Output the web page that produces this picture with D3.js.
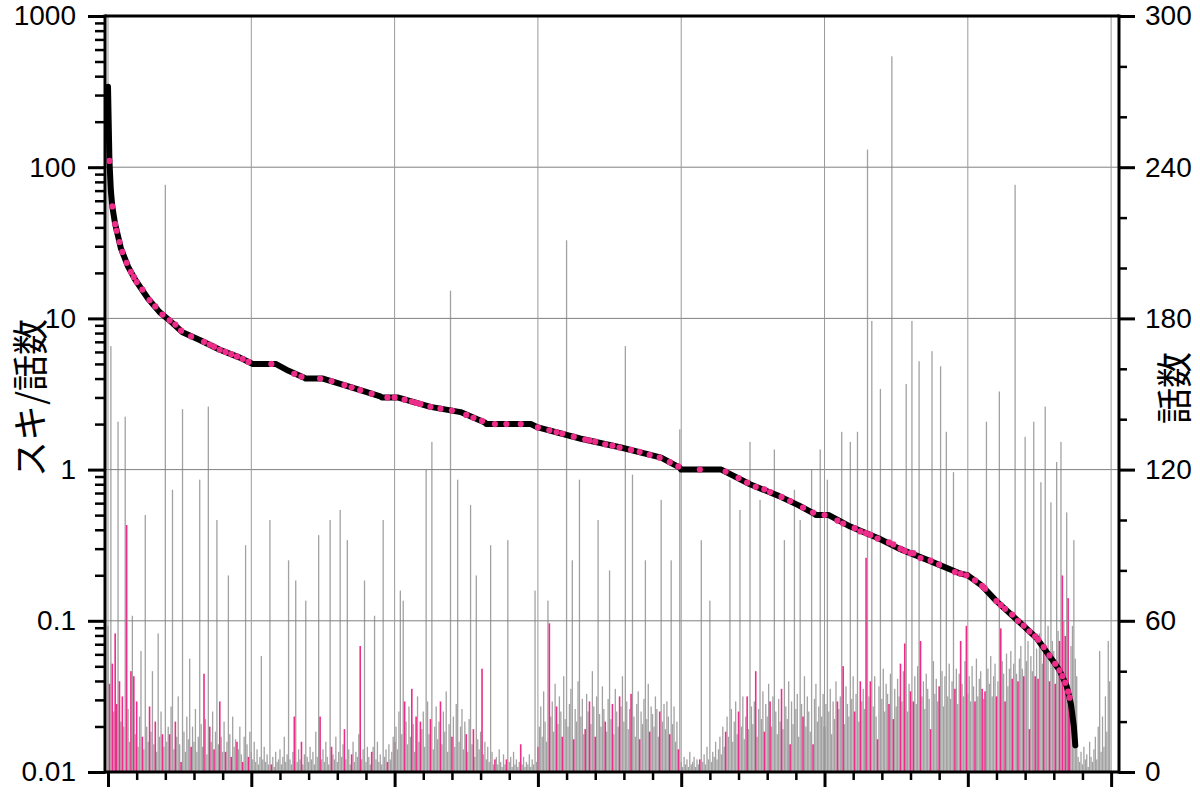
<!DOCTYPE html>
<html><head><meta charset="utf-8">
<script src="https://cdn.jsdelivr.net/npm/d3@7/dist/d3.min.js"></script>
<style>html,body{margin:0;padding:0;background:#fff;}svg{display:block;}</style>
</head><body>
<svg id="c" width="1200" height="796"></svg>
<script>
// ---- data ----
// episodes (話数) per work, in order of descending スキ/話数
const episodes = [
58,35,169,43,24,55,27,139,36,20,
30,18,141,98,25,12,40,62,38,15,
28,10,22,48,14,9,102,18,12,26,
16,40,11,20,8,55,14,24,15,10,
233,12,18,15,26,112,9,20,14,30,
11,4,144,16,8,22,13,45,10,18,
12,25,8,14,116,19,10,39,21,7,
145,18,12,24,9,16,100,11,28,14,
8,20,8,12,78,15,6,22,10,13,
12,9,18,7,4,14,90,11,6,16,
8,5,12,4,9,3,6,46,5,10,
4,7,3,100,3,6,2,8,4,5,
9,3,6,14,4,7,84,5,3,8,
22,76,4,9,5,12,3,7,68,6,
4,10,5,8,3,16,6,94,22,5,
9,4,12,6,3,100,10,7,5,14,
4,8,104,6,11,17,5,92,9,3,
7,12,4,8,6,15,50,5,9,76,
4,10,6,3,8,10,62,5,12,4,
7,3,100,6,9,4,11,5,8,14,
12,18,9,24,72,15,68,28,20,11,
26,14,33,19,8,22,30,12,20,17,
24,10,120,28,15,21,131,9,18,26,
13,20,28,11,24,16,32,8,19,191,
14,22,10,27,116,12,18,25,9,20,
15,8,21,106,11,17,6,78,13,9,
16,41,7,12,5,10,4,90,8,3,
5,6,3,9,4,2,7,3,5,92,
4,6,2,8,3,5,2,4,11,3,
6,2,4,3,7,2,5,3,72,4,
10,18,26,14,32,20,12,68,59,22,
28,16,35,26,19,30,24,14,38,21,
211,18,27,33,84,13,25,20,36,116,
22,29,15,17,31,24,28,19,40,26,
14,30,100,23,18,34,25,20,16,29,
80,21,27,15,33,24,18,30,26,38,
20,169,28,17,25,31,118,22,14,27,
32,13,24,19,29,84,21,35,16,26,
23,18,30,25,14,24,108,20,27,17,
28,22,15,84,19,26,12,20,9,136,
4,2,6,3,5,2,8,3,4,6,
2,5,3,5,92,4,7,3,10,5,
68,4,8,6,12,5,9,14,7,18,
10,16,22,14,116,25,12,20,28,15,
24,104,18,30,13,22,30,17,131,26,
19,28,40,14,25,108,21,32,16,27,
22,35,28,18,30,128,24,15,29,20,
33,17,92,26,21,36,11,28,19,112,
25,31,14,100,27,22,38,18,30,24,
16,120,11,29,35,20,26,128,22,31,
18,27,116,24,33,15,28,21,36,28,
25,30,135,42,19,34,27,22,131,29,
38,24,31,135,20,36,28,33,25,85,
247,30,36,179,26,38,22,13,34,152,
29,41,24,35,31,27,39,284,21,33,
26,37,30,43,28,40,51,154,24,35,
32,179,28,38,27,42,163,52,30,36,
25,39,33,29,17,167,44,31,37,28,
34,161,40,26,38,135,30,43,29,36,
119,33,41,27,39,52,35,30,44,58,
31,38,28,42,34,28,45,30,37,40,
33,29,32,139,41,35,46,30,38,43,
30,36,151,57,44,39,28,47,34,41,
48,37,43,233,39,36,45,50,41,38,
133,44,52,17,46,40,139,38,49,37,
55,115,43,50,145,47,58,36,107,52,
48,35,123,56,52,131,78,60,54,103,
69,32,50,58,92,45,38,6,4,8,
3,10,5,7,2,12,6,4,9,14,
5,18,48,8,22,10,30,16,52,36
];

// スキ/話数 curve (work index, value)
const lineIdx = [0,1,2,3,4,5,7,9,11,14,19,28,36,44,52,64,78,92,100,101,117,126,137,138,150,170,190,191,202,225,246,263,264,295,300,330,358,386,399,400,428,448,468,482,493,494,503,518,538,552,573,595,600,610,620,635,648,659,664,669,672,674,675];
const lineVal = [340,110,70,55,48,42,35,29,26,22,18,13.5,11,9.5,8.1,7.2,6.2,5.5,5.05,5,5,4.5,4.05,4,4,3.5,3.05,3,3,2.6,2.4,2.05,2,2,1.9,1.6,1.4,1.2,1.03,1,1,0.8,0.67,0.58,0.51,0.5,0.5,0.42,0.35,0.3,0.25,0.205,0.2,0.17,0.135,0.1,0.077,0.055,0.047,0.037,0.028,0.02,0.015];

// highlighted works (pink): index and their スキ/話数
const pinkIdx = [1,3,5,6,8,10,13,16,18,20,24,29,33,38,43,47,51,58,67,71,74,78,82,86,90,94,98,114,130,135,148,156,165,170,176,184,195,200,207,212,215,218,225,232,240,250,255,261,270,278,288,300,308,313,317,325,333,336,340,347,352,357,365,371,378,385,392,398,413,431,440,446,452,458,462,470,476,485,492,500,509,513,521,525,529,532,537,545,548,553,556,560,562,567,574,580,591,595,599,605,610,612,620,623,626,631,635,639,643,647,649,653,657,661,664,666,668,670,671];
const pinkRatio = [110,55,42,38,32,27.5,23.3,20.3,18.8,17.4,15.5,13.2,12,10.6,9.7,9.1,8.3,7.6,7,6.7,6.5,6.2,6,5.8,5.6,5.4,5.15,5,4.3,4.12,4,3.85,3.62,3.5,3.35,3.18,3,3,2.9,2.82,2.76,2.72,2.6,2.53,2.46,2.3,2.2,2.1,2,2,2,1.9,1.82,1.77,1.73,1.65,1.58,1.56,1.53,1.47,1.44,1.4,1.35,1.31,1.25,1.2,1.12,1.05,1,0.97,0.88,0.82,0.77,0.74,0.71,0.66,0.62,0.56,0.52,0.5,0.46,0.44,0.41,0.39,0.38,0.37,0.35,0.33,0.32,0.3,0.29,0.28,0.28,0.26,0.25,0.235,0.21,0.205,0.2,0.185,0.17,0.163,0.135,0.127,0.12,0.11,0.1,0.093,0.085,0.079,0.075,0.067,0.059,0.052,0.047,0.043,0.039,0.034,0.031];

const leftTicks = [0.01,0.1,1,10,100,1000];
const leftTickLabels = ["0.01","0.1","1","10","100","1000"];
const rightTicks = [0,60,120,180,240,300];
const rightTickLabels = ["0","60","120","180","240","300"];
const xMajorTicks = [0,100,200,300,400,500,600,700];
const leftTitle = "スキ/話数";
const rightTitle = "話数";

// ---- drawing ----
const svg = d3.select("#c");
const L = 105, R = 1119, T = 16, B = 772;
const x = d3.scaleLinear().domain([-2.1, 705.5]).range([L, R]);
const yL = d3.scaleLog().domain([0.01, 1000]).range([B, T]);
const yR = d3.scaleLinear().domain([0, 300]).range([B, T]);

const PINK = "#ec2d8a";
const pinkSet = new Set(pinkIdx);

// bars
const gBars = svg.append("g");
gBars.selectAll("rect.g").data(episodes.map((v,i)=>({i,v})).filter(d=>!pinkSet.has(d.i)))
  .join("rect").attr("class","g")
  .attr("x", d=>x(d.i)-0.65).attr("width",1.3)
  .attr("y", d=>yR(d.v)).attr("height", d=>yR(0)-yR(d.v))
  .attr("fill","#a2a2a2");
gBars.selectAll("rect.p").data(pinkIdx.map(i=>({i,v:episodes[i]})))
  .join("rect").attr("class","p")
  .attr("x", d=>x(d.i)-0.8).attr("width",1.6)
  .attr("y", d=>yR(d.v)).attr("height", d=>yR(0)-yR(d.v))
  .attr("fill",PINK);

// grid
const gGrid = svg.append("g").attr("stroke","#808080").attr("stroke-width",1);
[0.1,1,10,100].forEach(v=>{
  gGrid.append("line").attr("x1",L).attr("x2",R).attr("y1",yL(v)).attr("y2",yL(v));
});
xMajorTicks.forEach(v=>{
  gGrid.append("line").attr("x1",x(v)).attr("x2",x(v)).attr("y1",T).attr("y2",B).attr("stroke","#9a9a9a");
});

// curve
const pts = lineIdx.map((d,k)=>[d,lineVal[k]]);
svg.append("path").datum(pts)
  .attr("d", d3.line().x(d=>x(d[0])).y(d=>yL(d[1])))
  .attr("fill","none").attr("stroke","#000").attr("stroke-width",6)
  .attr("stroke-linejoin","round").attr("stroke-linecap","round");
svg.append("g").selectAll("circle").data(pinkIdx.map((i,k)=>[i,pinkRatio[k]]))
  .join("circle").attr("cx",d=>x(d[0])).attr("cy",d=>yL(d[1])).attr("r",3.1).attr("fill",PINK);

// axes
const fontNum = "'Liberation Sans', Arial, sans-serif";
function styleAxis(g, w){
  g.select(".domain").remove();
  g.selectAll(".tick line").attr("stroke","#000").attr("stroke-width",w);
  g.selectAll("text").attr("fill","#000").style("font-family",fontNum).style("font-size","28px");
}
// left minor
const leftMinor = [];
for (let e=-2;e<3;e++) for (let m=2;m<10;m++) leftMinor.push(m*Math.pow(10,e));
const gLm = svg.append("g").attr("transform",`translate(${L},0)`)
  .call(d3.axisLeft(yL).tickValues(leftMinor).tickSize(10).tickFormat(""));
styleAxis(gLm,2.5);
const gL = svg.append("g").attr("transform",`translate(${L},0)`)
  .call(d3.axisLeft(yL).tickValues(leftTicks).tickSize(17).tickPadding(12)
    .tickFormat((d,i)=>leftTickLabels[i]));
styleAxis(gL,3);
// right
const rightMinor = d3.range(0,301,20).filter(v=>rightTicks.indexOf(v)<0);
const gRm = svg.append("g").attr("transform",`translate(${R},0)`)
  .call(d3.axisRight(yR).tickValues(rightMinor).tickSize(8).tickFormat(""));
styleAxis(gRm,2.5);
const gR = svg.append("g").attr("transform",`translate(${R},0)`)
  .call(d3.axisRight(yR).tickValues(rightTicks).tickSize(16).tickPadding(10)
    .tickFormat((d,i)=>rightTickLabels[i]));
styleAxis(gR,3);
// bottom
const xMinor = d3.range(0,701,20).filter(v=>xMajorTicks.indexOf(v)<0);
const gBm = svg.append("g").attr("transform",`translate(0,${B})`)
  .call(d3.axisBottom(x).tickValues(xMinor).tickSize(8).tickFormat(""));
styleAxis(gBm,2.5);
const gB = svg.append("g").attr("transform",`translate(0,${B})`)
  .call(d3.axisBottom(x).tickValues(xMajorTicks).tickSize(15).tickFormat(""));
styleAxis(gB,3);

// frame
const gF = svg.append("g").attr("stroke","#000").attr("stroke-width",3).attr("fill","none");
gF.append("line").attr("x1",L).attr("x2",R).attr("y1",T).attr("y2",T);
gF.append("line").attr("x1",L).attr("x2",R).attr("y1",B).attr("y2",B);
gF.append("line").attr("x1",L).attr("x2",L).attr("y1",T-1.5).attr("y2",B+1.5);
gF.append("line").attr("x1",R).attr("x2",R).attr("y1",T-1.5).attr("y2",B+1.5);

// titles
const fontJP = "'Noto Sans CJK JP', sans-serif";
svg.append("text").text(leftTitle)
  .attr("transform","translate(28,398) rotate(-90)")
  .attr("text-anchor","middle").attr("dominant-baseline","central")
  .style("font-family",fontJP).style("font-size","36px").attr("fill","#000");
svg.append("text").text(rightTitle)
  .attr("transform","translate(1172,388) rotate(-90)")
  .attr("text-anchor","middle").attr("dominant-baseline","central")
  .style("font-family",fontJP).style("font-size","36px").attr("fill","#000");
</script>
</body></html>
